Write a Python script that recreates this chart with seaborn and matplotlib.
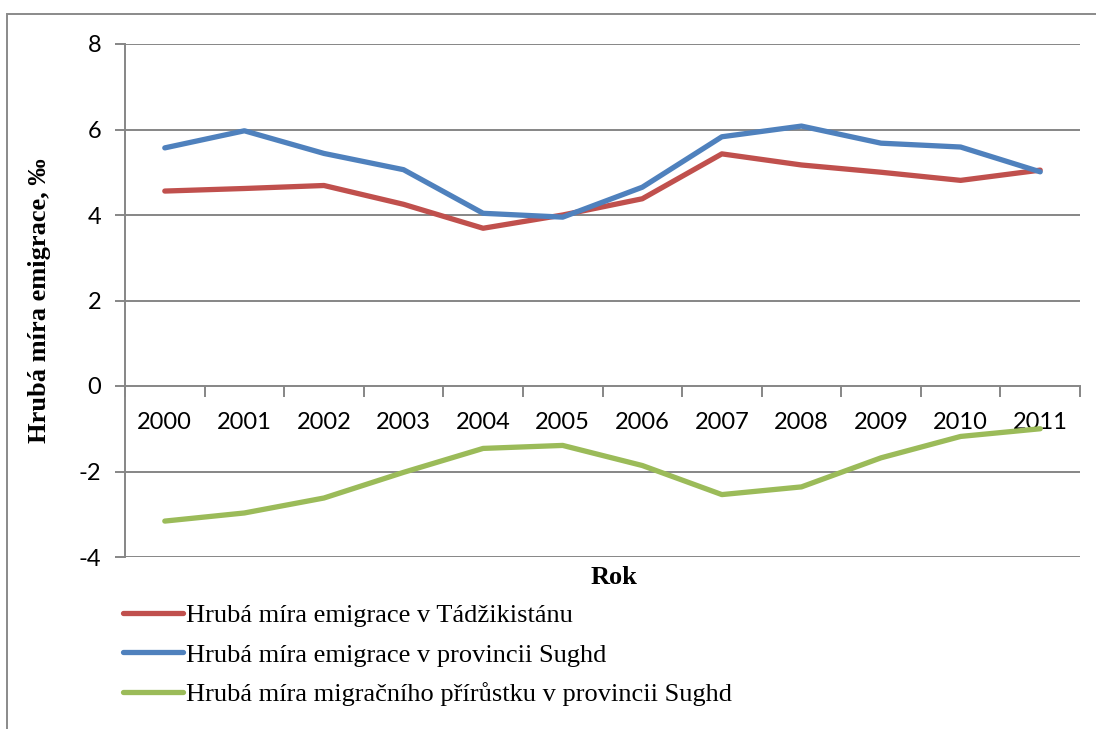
import matplotlib
matplotlib.use("Agg")
import matplotlib.pyplot as plt
import seaborn as sns
import pandas as pd
import numpy as np
from matplotlib.patches import Rectangle

years = ["2000", "2001", "2002", "2003", "2004", "2005", "2006", "2007", "2008", "2009", "2010", "2011"]
tadzikistan = [4.56, 4.62, 4.69, 4.25, 3.69, 4.00, 4.38, 5.43, 5.17, 5.00, 4.81, 5.05]
sughd_emig = [5.57, 5.97, 5.44, 5.06, 4.04, 3.95, 4.65, 5.83, 6.08, 5.68, 5.59, 5.01]
sughd_migr = [-3.16, -2.97, -2.62, -2.02, -1.46, -1.39, -1.86, -2.54, -2.36, -1.68, -1.18, -1.00]
series_names = [
    "Hrubá míra emigrace v Tádžikistánu",
    "Hrubá míra emigrace v provincii Sughd",
    "Hrubá míra migračního přírůstku v provincii Sughd",
]
colors = ["#C0504D", "#4F81BD", "#9BBB59"]
y_ticks = [-4, -2, 0, 2, 4, 6, 8]

rows = []
for name, vals in zip(series_names, [tadzikistan, sughd_emig, sughd_migr]):
    for i, v in enumerate(vals):
        rows.append({"pos": i, "val": v, "series": name})
df = pd.DataFrame(rows)

sns.set_theme(style="white")
plt.rcParams["font.family"] = ["Lato", "DejaVu Sans"]
plt.rcParams["text.color"] = "black"
plt.rcParams["axes.labelcolor"] = "black"
serif = ["Liberation Serif", "DejaVu Serif"]

fig = plt.figure(figsize=(10.96, 7.29), dpi=100)
ax = fig.add_axes([125 / 1096, 1 - 557 / 729, (1080 - 125) / 1096, (557 - 44) / 729])

grid_c = "#868686"
for yv in y_ticks:
    if yv != 0:
        ax.axhline(yv, color=grid_c, lw=1.4, zorder=1)

sns.lineplot(data=df, x="pos", y="val", hue="series", palette=colors,
             hue_order=series_names, linewidth=3.8, ax=ax, legend=True, zorder=3,
             solid_capstyle="round")

ax.set_xlim(-0.5, len(years) - 0.5)
ax.set_ylim(-4, 8)

for s in ["top", "right"]:
    ax.spines[s].set_visible(False)
ax.spines["left"].set_color(grid_c)
ax.spines["left"].set_linewidth(1.4)
ax.spines["bottom"].set_position(("data", 0))
ax.spines["bottom"].set_color(grid_c)
ax.spines["bottom"].set_linewidth(1.4)

ax.set_yticks(y_ticks)
ax.set_yticklabels([str(t) for t in y_ticks])
ax.tick_params(axis="y", direction="out", length=7, width=1.4, color=grid_c,
               labelsize=17, pad=10, left=True, labelcolor="black")

ax.set_xticks(range(len(years)))
ax.set_xticklabels(years)
ax.set_xticks(np.arange(-0.5, len(years), 1.0), minor=True)
ax.tick_params(axis="x", which="major", length=0, labelsize=17, pad=19, labelcolor="black")
ax.tick_params(axis="x", which="minor", direction="out", length=8, width=1.4,
               color=grid_c, bottom=True)

ax.set_xlabel("")
ax.set_ylabel("Hrubá míra emigrace, ‰", family=serif, color="black",
              fontweight="bold", fontsize=19, labelpad=20)

fig.text(614 / 1096, 1 - 578 / 729, "Rok", family=serif, color="black",
         fontweight="bold", fontsize=19, ha="center", va="center")

handles, labels = ax.get_legend_handles_labels()
leg = fig.legend(handles, labels, loc="upper left",
                 bbox_to_anchor=(99 / 1096, 1 - 580 / 729),
                 frameon=False, handlelength=2.3, handletextpad=0.1,
                 labelspacing=0.6, labelcolor="black",
                 prop={"family": serif, "size": 19})
ax.get_legend().remove()
for h in leg.get_lines():
    h.set_linewidth(3.8)

fig.patches.append(Rectangle((7 / 1096, -0.05), 1.2, 1 - 14 / 729 + 0.05,
                             transform=fig.transFigure, fill=False,
                             edgecolor="#8a8a8a", linewidth=1.4, zorder=0))

fig.savefig("out.png", dpi=100)
